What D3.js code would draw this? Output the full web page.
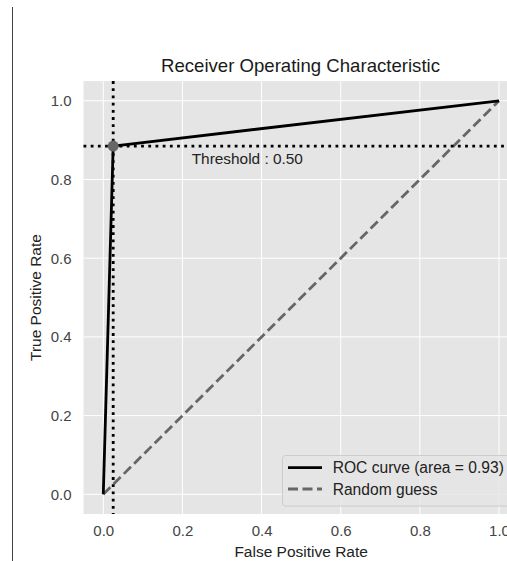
<!DOCTYPE html>
<html><head><meta charset="utf-8">
<script src="https://cdn.jsdelivr.net/npm/d3@7"></script>
<style>body{margin:0;background:#fff;} text{font-family:"Liberation Sans",Arial,sans-serif;}</style>
</head><body>
<svg id="c" width="507" height="561"></svg>
<script>
const rocFpr = [0.0, 0.025, 1.0];
const rocTpr = [0.0, 0.885, 1.0];
const guessX = [0, 1];
const guessY = [0, 1];
const thresholdPoint = [0.025, 0.885];
const thresholdLabel = "Threshold : 0.50";
const ticks = [0.0, 0.2, 0.4, 0.6, 0.8, 1.0];
const legendLabels = ["ROC curve (area = 0.93)", "Random guess"];

const svg = d3.select("#c");
const x = d3.scaleLinear().domain([-0.05, 1.05]).range([83.5, 518.8]);
const y = d3.scaleLinear().domain([-0.05, 1.05]).range([514, 81.1]);

// stray left frame line
svg.append("line").attr("x1",12.5).attr("x2",12.5).attr("y1",7).attr("y2",561)
  .attr("stroke","#444").attr("stroke-width",1);

svg.append("rect").attr("x",x(-0.05)).attr("y",y(1.05))
  .attr("width",x(1.05)-x(-0.05)).attr("height",y(-0.05)-y(1.05)).attr("fill","#E5E5E5");

const g = svg.append("g");
g.selectAll(".gx").data(ticks).join("line").attr("x1",d=>x(d)).attr("x2",d=>x(d))
  .attr("y1",y(1.05)).attr("y2",y(-0.05)).attr("stroke","#fff").attr("stroke-width",1);
g.selectAll(".gy").data(ticks).join("line").attr("y1",d=>y(d)).attr("y2",d=>y(d))
  .attr("x1",x(-0.05)).attr("x2",x(1.05)).attr("stroke","#fff").attr("stroke-width",1);

// axes via d3 axis
const xa = svg.append("g").attr("transform",`translate(0,${y(-0.05)})`)
  .call(d3.axisBottom(x).tickValues(ticks).tickFormat(d3.format(".1f")).tickSize(0).tickPadding(11));
const ya = svg.append("g").attr("transform",`translate(${x(-0.05)},0)`)
  .call(d3.axisLeft(y).tickValues(ticks).tickFormat(d3.format(".1f")).tickSize(0).tickPadding(12));
[xa,ya].forEach(a=>{a.select(".domain").remove();
  a.selectAll("text").attr("fill","#444").style("font-size","15px").style("font-family","'Liberation Sans',Arial,sans-serif");});

const line = d3.line().x(d=>x(d[0])).y(d=>y(d[1]));

// random guess dashed
g.append("path").datum(guessX.map((v,i)=>[v,guessY[i]])).attr("d",line)
  .attr("fill","none").attr("stroke","#666").attr("stroke-width",2.8).attr("stroke-dasharray","10,4.5");

// threshold dotted lines
g.append("line").attr("x1",x(thresholdPoint[0])).attr("x2",x(thresholdPoint[0]))
  .attr("y1",y(1.05)).attr("y2",y(-0.05)).attr("stroke","#000").attr("stroke-width",2.8).attr("stroke-dasharray","2.8,4.4");
g.append("line").attr("y1",y(thresholdPoint[1])).attr("y2",y(thresholdPoint[1]))
  .attr("x1",x(-0.05)).attr("x2",x(1.05)).attr("stroke","#000").attr("stroke-width",2.8).attr("stroke-dasharray","2.8,4.4");

// ROC curve
g.append("path").datum(rocFpr.map((v,i)=>[v,rocTpr[i]])).attr("d",line)
  .attr("fill","none").attr("stroke","#000").attr("stroke-width",2.8).attr("stroke-linejoin","round");

g.append("circle").attr("cx",x(thresholdPoint[0])).attr("cy",y(thresholdPoint[1])).attr("r",5.5).attr("fill","#666");

g.append("text").attr("x",191.7).attr("y",164)
  .attr("font-size","15.4px").attr("fill","#222").text(thresholdLabel);

// title and labels
svg.append("text").attr("x",300.5).attr("y",72.3).attr("text-anchor","middle").attr("font-size","18.6px").attr("fill","#1a1a1a")
  .text("Receiver Operating Characteristic");
svg.append("text").attr("x",x(0.5)).attr("y",557).attr("text-anchor","middle").attr("font-size","15.5px").attr("fill","#222")
  .text("False Positive Rate");
svg.append("text").attr("transform",`translate(40.5,${y(0.5)}) rotate(-90)`).attr("text-anchor","middle").attr("font-size","15.5px").attr("fill","#222")
  .text("True Positive Rate");

// legend
const lg = svg.append("g");
lg.append("rect").attr("x",282.5).attr("y",455.5).attr("width",240).attr("height",50.5).attr("rx",3)
  .attr("fill","#E5E5E5").attr("fill-opacity",0.8).attr("stroke","#ccc").attr("stroke-width",1);
const styles = [{c:"#000",d:null},{c:"#666",d:"10,4.5"}];
legendLabels.forEach((t,i)=>{
  const yy = 467.7 + i*21.3;
  lg.append("line").attr("x1",288).attr("x2",322).attr("y1",yy).attr("y2",yy)
    .attr("stroke",styles[i].c).attr("stroke-width",2.8).attr("stroke-dasharray",styles[i].d);
  lg.append("text").attr("x",332.7).attr("y",yy+5.6).attr("font-size","15.6px").attr("fill","#222").text(t);
});
</script>
</body></html>
